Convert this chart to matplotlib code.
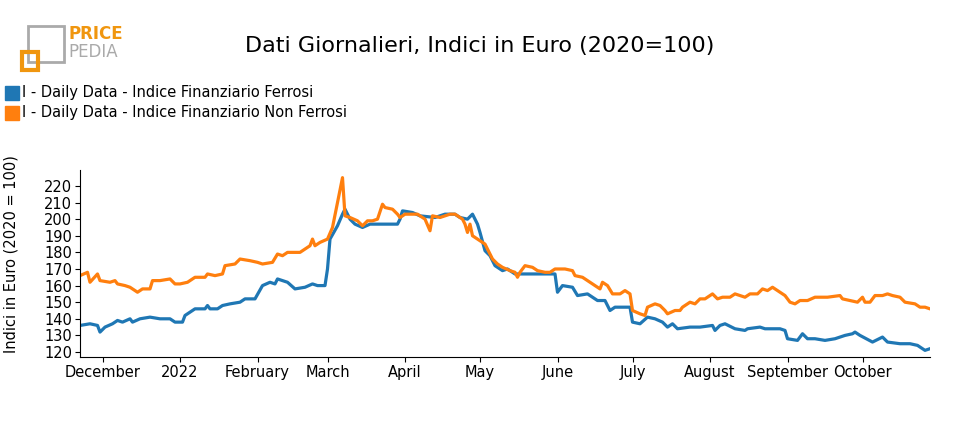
import matplotlib
matplotlib.use("Agg")
import matplotlib.pyplot as plt
import matplotlib.patches as mpatches
import numpy as np
import datetime as dt

START = dt.date(2021, 11, 22)
ferrosi_days = [0,4,7,8,10,13,15,17,20,21,24,28,32,36,38,41,42,46,50,51,52,55,57,60,64,66,70,73,76,78,79,83,86,90,93,95,98,99,100,103,105,106,108,110,113,116,122,127,128,129,133,136,142,146,150,152,155,157,159,160,162,164,166,169,171,174,180,184,190,191,193,197,199,203,205,207,210,212,214,218,220,221,224,227,230,233,235,237,239,244,248,253,254,256,258,262,266,267,272,274,280,282,283,287,289,291,294,298,302,306,309,310,312,317,321,323,328,332,335,338,340]
ferrosi_vals = [136,137,136,132,135,137,139,138,140,138,140,141,140,140,138,138,142,146,146,148,146,146,148,149,150,152,152,160,162,161,164,162,158,159,161,160,160,170,188,196,203,206,200,197,195,197,197,197,200,205,204,202,201,203,203,201,200,203,197,192,181,178,172,169,170,167,167,167,167,156,160,159,154,155,153,151,151,145,147,147,147,138,137,141,140,138,135,137,134,135,135,136,133,136,137,134,133,134,135,134,134,133,128,127,131,128,128,127,128,130,131,132,130,126,129,126,125,125,124,121,122]
nonferrosi_days = [0,3,4,7,8,12,14,15,18,20,23,25,28,29,32,36,38,40,43,46,50,51,54,57,58,62,64,68,71,73,77,79,81,83,88,90,92,93,94,96,99,101,103,105,106,108,111,113,115,117,119,121,122,125,127,128,130,132,135,138,140,141,144,148,150,153,154,155,156,157,159,162,165,167,169,172,174,175,176,178,181,183,186,188,190,194,197,198,201,204,206,208,209,211,213,216,218,220,221,224,226,227,230,232,234,235,238,240,241,244,246,248,250,253,255,257,260,262,264,266,268,271,273,275,277,279,282,284,286,288,291,294,297,299,304,305,308,311,313,314,316,318,321,323,325,328,330,334,336,338,340]
nonferrosi_vals = [166,168,162,167,163,162,163,161,160,159,156,158,158,163,163,164,161,161,162,165,165,167,166,167,172,173,176,175,174,173,174,179,178,180,180,182,184,188,184,186,188,195,210,225,202,201,199,196,199,199,200,209,207,206,203,201,203,203,203,200,193,202,201,203,203,200,197,192,197,190,188,185,176,173,171,169,168,165,168,172,171,169,168,168,170,170,169,166,165,162,160,158,162,160,155,155,157,155,145,143,142,147,149,148,145,143,145,145,147,150,149,152,152,155,152,153,153,155,154,153,155,155,158,157,159,157,154,150,149,151,151,153,153,153,154,152,151,150,153,150,150,154,154,155,154,153,150,149,147,147,146]
yticks = list(range(120, 230, 10))
month_ticks = [dt.date(2021,12,1), dt.date(2022,1,1), dt.date(2022,2,1), dt.date(2022,3,1), dt.date(2022,4,1),
               dt.date(2022,5,1), dt.date(2022,6,1), dt.date(2022,7,1), dt.date(2022,8,1), dt.date(2022,9,1), dt.date(2022,10,1)]
month_labels = ["December","2022","February","March","April","May","June","July","August","September","October"]

BLUE = "#1f77b4"; ORANGE = "#ff7f0e"
fd = [START + dt.timedelta(days=d) for d in ferrosi_days]
nd = [START + dt.timedelta(days=d) for d in nonferrosi_days]

fig = plt.figure(figsize=(9.6, 4.3), dpi=100)
ax = fig.add_axes([80/960, 1-357/430, 850/960, (357-170)/430])
ax.plot(fd, ferrosi_vals, color=BLUE, lw=2.3)
ax.plot(nd, nonferrosi_vals, color=ORANGE, lw=2.3)
ax.set_xlim(START, START + dt.timedelta(days=340))
ax.set_ylim(117, 229.6)
ax.set_yticks(yticks)
ax.set_xticks(month_ticks)
ax.set_xticklabels(month_labels)
ax.tick_params(labelsize=10.5, pad=2)
for s in ["top", "right"]:
    ax.spines[s].set_visible(False)
ax.set_ylabel("Indici in Euro (2020 = 100)", fontsize=10.5)
ax.yaxis.set_label_coords(-0.072, 0.55)

fig.text(480/960, 1-46/430, "Dati Giornalieri, Indici in Euro (2020=100)", ha="center", va="center", fontsize=16)
for i, (c, lab) in enumerate([(BLUE, "I - Daily Data - Indice Finanziario Ferrosi"), (ORANGE, "I - Daily Data - Indice Finanziario Non Ferrosi")]):
    y = 1 - (93 + 20*i)/430
    fig.patches.append(mpatches.Rectangle((5/960, y - 7/430), 14/960, 14/430, transform=fig.transFigure, color=c))
    fig.text(22/960, y, lab, va="center", fontsize=10.5)
fig.text(68/960, 1-34/430, "PRICE", color="#f0960f", fontsize=12, fontweight="bold", va="center")
fig.text(68/960, 1-52/430, "PEDIA", color="#aaaaaa", fontsize=12, va="center")
fig.patches.append(mpatches.Rectangle((28/960, 1-62/430), 36/960, 36/430, transform=fig.transFigure, fill=False, ec="#aaaaaa", lw=2))
fig.patches.append(mpatches.Rectangle((22/960, 1-70/430), 16/960, 18/430, transform=fig.transFigure, fill=False, ec="#f0960f", lw=3))
fig.savefig("out.png", dpi=100)
